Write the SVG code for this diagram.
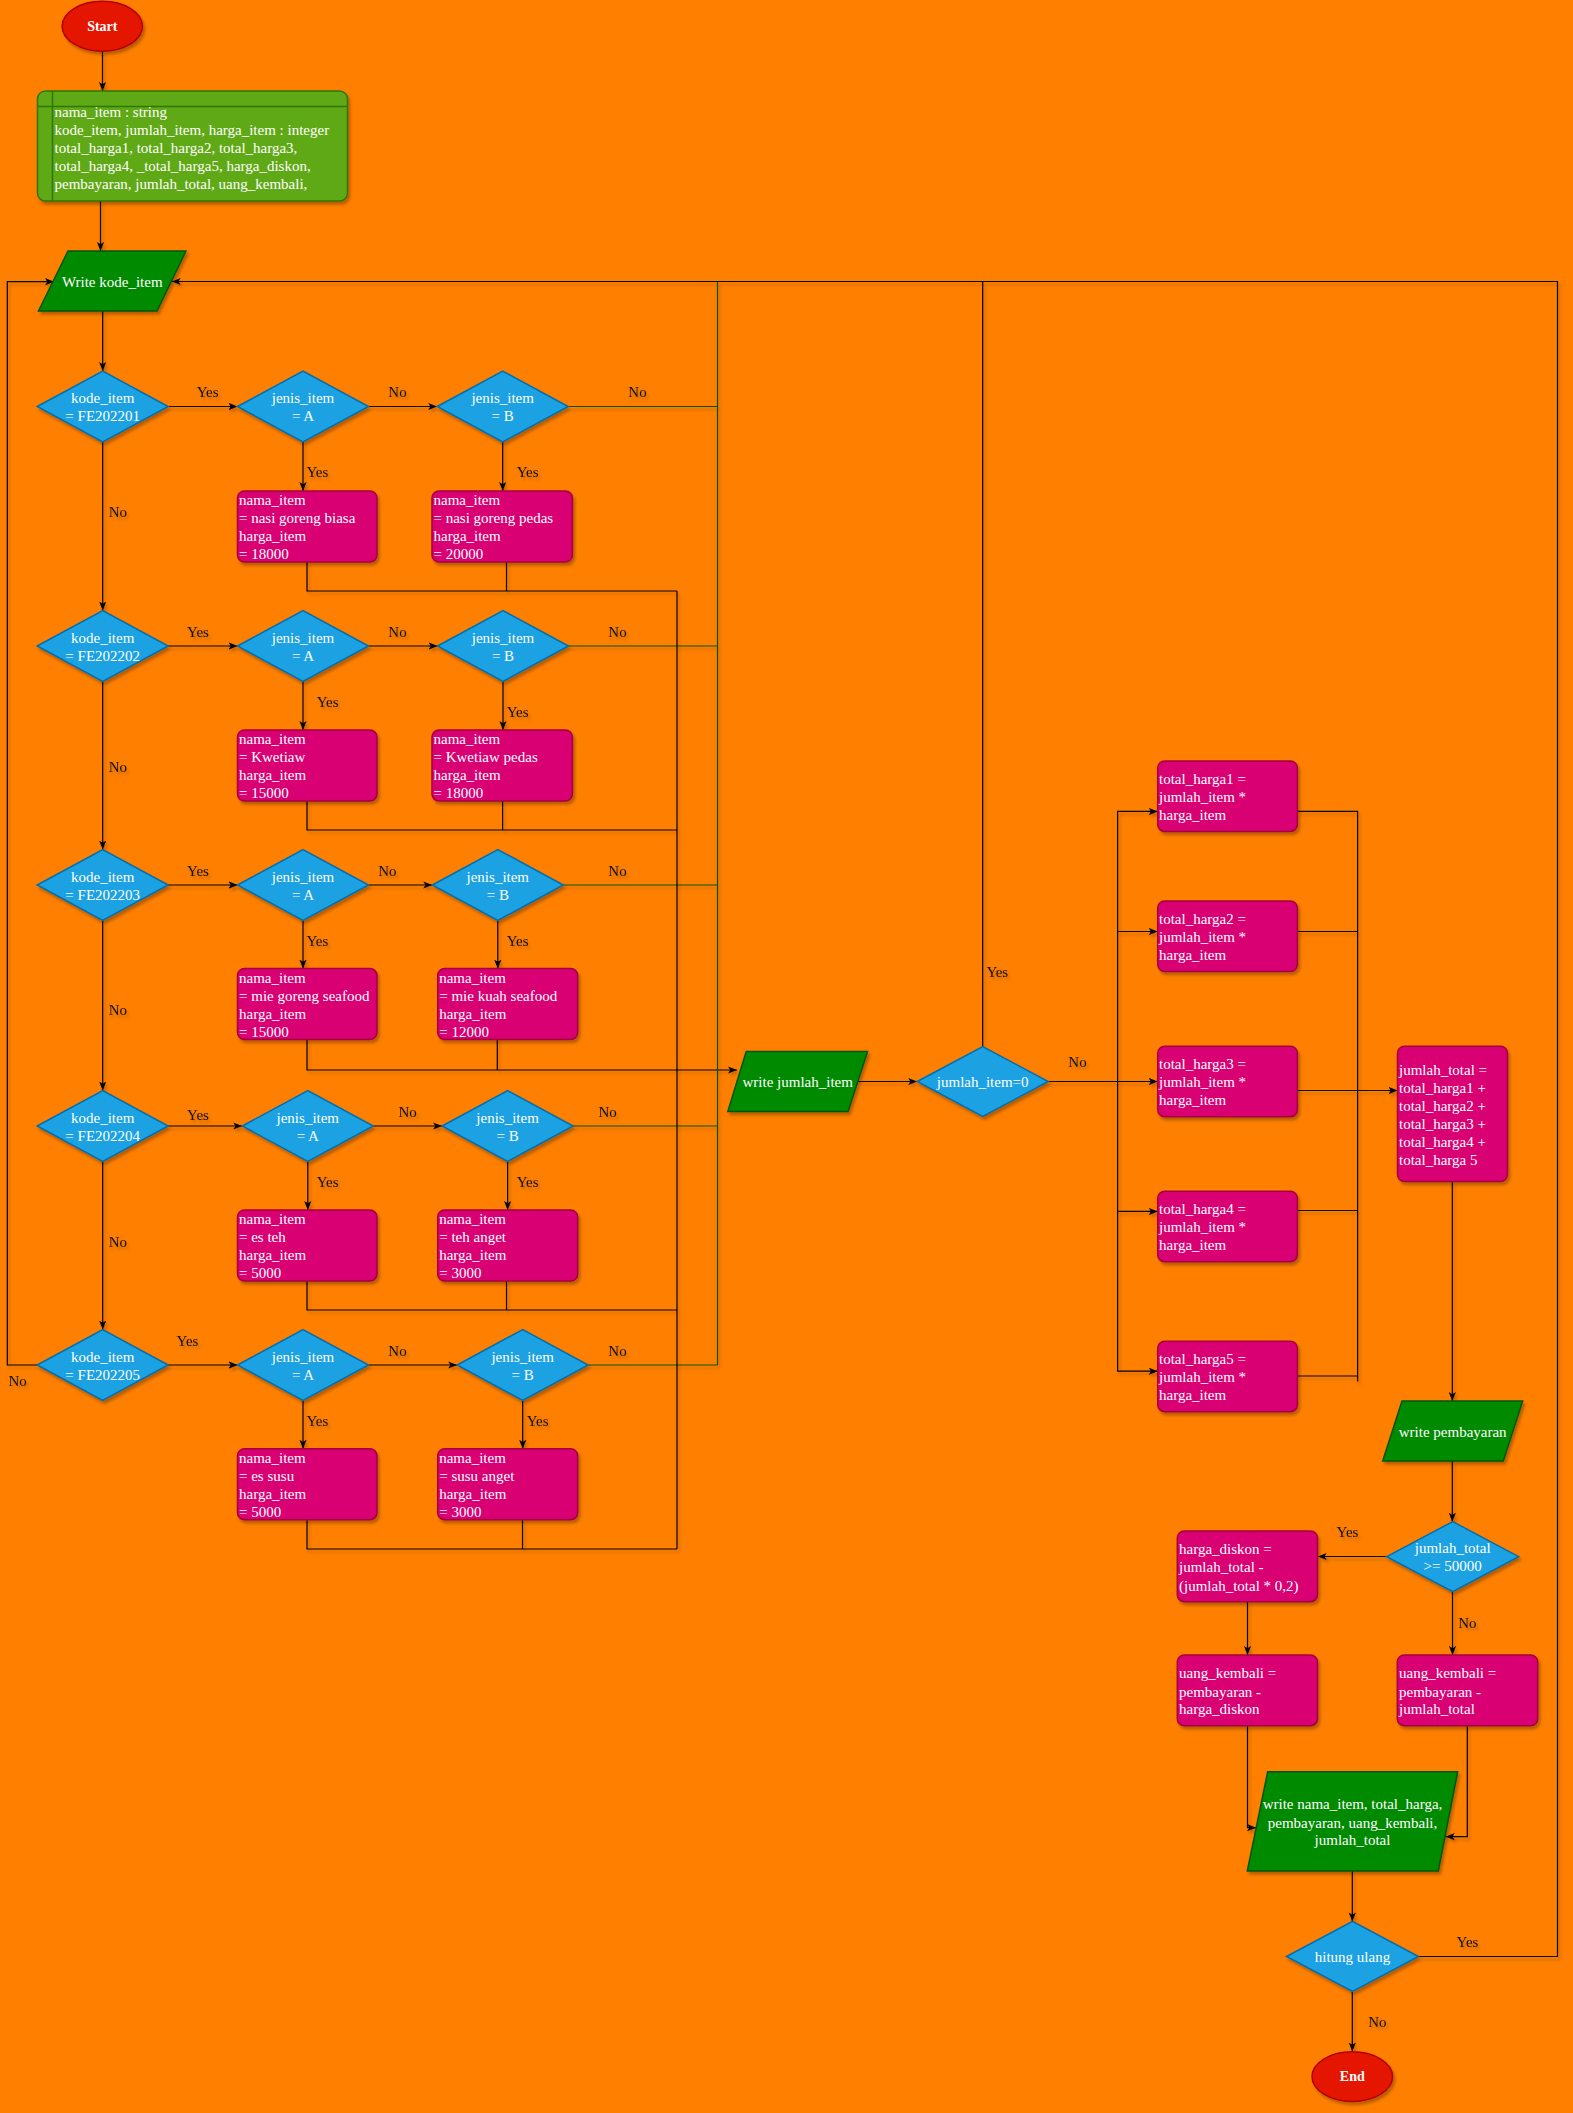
<svg xmlns="http://www.w3.org/2000/svg" width="1573" height="2113" viewBox="0 0 1573 2113">
<defs>
<filter id="sh" x="-20%" y="-20%" width="150%" height="160%"><feDropShadow dx="2" dy="3" stdDeviation="1.6" flood-color="#000" flood-opacity="0.28"/></filter>
<filter id="lsh" filterUnits="userSpaceOnUse" x="0" y="0" width="1573" height="2113"><feDropShadow dx="2" dy="3" stdDeviation="1.4" flood-color="#000" flood-opacity="0.22"/></filter>
<marker id="ar" viewBox="0 0 10 10" refX="10" refY="5" markerWidth="9" markerHeight="9" markerUnits="userSpaceOnUse" orient="auto"><path d="M0,1 L10,5 L0,9 L2.5,5 Z" fill="#000"/></marker>
<style>
.term{fill:#e51400;stroke:#b20000;stroke-width:1.5}
.decl{fill:#60a917;stroke:#2d7600;stroke-width:1.5}
.io{fill:#008a00;stroke:#005700;stroke-width:1.5}
.dec{fill:#1ba1e2;stroke:#006eaf;stroke-width:1.5}
.proc{fill:#d80073;stroke:#a50040;stroke-width:1.5}
.sh{filter:url(#sh)}
text{font-family:"Liberation Serif","Times New Roman",serif;font-size:15px}
.t{fill:#fff}
.c{text-anchor:middle}
.b{font-weight:bold;font-size:14px}
.lbl{fill:#111;text-anchor:middle}
.e{fill:none;stroke:#000;stroke-width:1.2}
.g{fill:none;stroke:#005700;stroke-width:1.2}
.a{marker-end:url(#ar)}
</style>
</defs>
<rect x="0" y="0" width="1573" height="2113" fill="#ff8000"/>

<g id="connectors" filter="url(#lsh)">
<path class="e a" d="M102.5,51 V91"/>
<path class="e a" d="M100.5,201 V251"/>
<path class="e a" d="M102.7,311 V371"/>
<!-- row 1 -->
<path class="e a" d="M168.2,406.5 H237.5"/>
<path class="e a" d="M368.5,406.5 H437.2"/>
<path class="g" d="M568.2,406.5 H717.5"/>
<path class="e a" d="M303,442 V491"/>
<path class="e a" d="M502.7,442 V491"/>
<path class="e" d="M307,562 V591 H677"/>
<path class="e" d="M506.5,562 V591"/>
<path class="e a" d="M102.7,442 V610.5"/>
<!-- row 2 -->
<path class="e a" d="M168.2,646 H237.5"/>
<path class="e a" d="M368.5,646 H437.5"/>
<path class="g" d="M568.5,646 H717.5"/>
<path class="e a" d="M303,681.5 V730"/>
<path class="e a" d="M503,681.5 V730"/>
<path class="e" d="M307,801 V830 H677"/>
<path class="e" d="M502.6,801 V830"/>
<path class="e a" d="M102.7,681.5 V849.5"/>
<!-- row 3 -->
<path class="e a" d="M168.2,885 H237.5"/>
<path class="e a" d="M368.5,885 H432.3"/>
<path class="g" d="M563.3,885 H717.5"/>
<path class="e a" d="M303,920.5 V968.6"/>
<path class="e a" d="M497.8,920.5 V968.6"/>
<path class="e a" d="M307,1039.6 V1070 H737"/>
<path class="e" d="M497.3,1039.6 V1070"/>
<path class="e a" d="M102.7,920.5 V1090.5"/>
<!-- row 4 -->
<path class="e a" d="M168.2,1126 H242.3"/>
<path class="e a" d="M373.3,1126 H442.1"/>
<path class="g" d="M573.1,1126 H717.5"/>
<path class="e a" d="M307.8,1161.5 V1210"/>
<path class="e a" d="M507.6,1161.5 V1210"/>
<path class="e" d="M307,1281 V1310 H677"/>
<path class="e" d="M506.5,1281 V1310"/>
<path class="e a" d="M102.7,1161.5 V1329.5"/>
<!-- row 5 -->
<path class="e a" d="M168.2,1365 H237.5"/>
<path class="e a" d="M368.5,1365 H457.2"/>
<path class="g" d="M588.2,1365 H717.5"/>
<path class="e a" d="M303,1400.5 V1448.7"/>
<path class="e a" d="M522.7,1400.5 V1448.7"/>
<path class="e" d="M307,1519.7 V1549 H677"/>
<path class="e" d="M522.5,1519.7 V1549"/>
<!-- joins -->
<path class="e" d="M677,591 V1549"/>
<path class="g" d="M717.5,281.5 V1365"/>
<path class="e a" d="M37.2,1365 H7.3 V281.7 H54"/>
<path class="e a" d="M1418.5,1956.5 H1557.5 V281.5 H171.7"/>
<path class="e" d="M982.7,1046.5 V281.5"/>
<!-- right part -->
<path class="e a" d="M858,1081.5 H917.2"/>
<path class="e a" d="M1048,1081.5 H1157.7"/>
<path class="e a" d="M1117.6,1081.5 V811.4 H1157.7"/>
<path class="e a" d="M1117.6,931.5 H1157.7"/>
<path class="e a" d="M1117.6,1081.5 V1371.2 H1157.7"/>
<path class="e a" d="M1117.6,1211.4 H1157.7"/>
<path class="e" d="M1297.4,811.4 H1357.6 V1381.5"/>
<path class="e" d="M1297.4,931.5 H1357.6"/>
<path class="e a" d="M1297.4,1090.5 H1397.5"/>
<path class="e" d="M1297.4,1210.5 H1357.6"/>
<path class="e" d="M1297.4,1376 H1357.6"/>
<path class="e a" d="M1452.3,1181.5 V1401"/>
<path class="e a" d="M1452.3,1461 V1521.7"/>
<path class="e a" d="M1386.7,1556.5 H1317.7"/>
<path class="e a" d="M1452.5,1591.7 V1655"/>
<path class="e a" d="M1247.5,1601.7 V1655"/>
<path class="e a" d="M1247.5,1725.7 V1827.7 H1256"/>
<path class="e a" d="M1467.3,1725.7 V1836.7 H1445.7"/>
<path class="e a" d="M1352.3,1871 V1921.4"/>
<path class="e a" d="M1352.3,1991.5 V2051.5"/>
</g>

<g id="labels" filter="url(#lsh)">
<text class="lbl" x="207.7" y="397">Yes</text>
<text class="lbl" x="397.5" y="397">No</text>
<text class="lbl" x="637.5" y="397">No</text>
<text class="lbl" x="317.4" y="477">Yes</text>
<text class="lbl" x="527.6" y="477">Yes</text>
<text class="lbl" x="117.8" y="517.4">No</text>
<text class="lbl" x="198" y="637">Yes</text>
<text class="lbl" x="397.5" y="637">No</text>
<text class="lbl" x="617.5" y="637">No</text>
<text class="lbl" x="327.7" y="706.7">Yes</text>
<text class="lbl" x="517.7" y="716.6">Yes</text>
<text class="lbl" x="117.8" y="771.7">No</text>
<text class="lbl" x="198" y="875.8">Yes</text>
<text class="lbl" x="387.3" y="875.8">No</text>
<text class="lbl" x="617.5" y="875.8">No</text>
<text class="lbl" x="317.4" y="945.5">Yes</text>
<text class="lbl" x="517.7" y="945.5">Yes</text>
<text class="lbl" x="117.8" y="1015">No</text>
<text class="lbl" x="198" y="1119.8">Yes</text>
<text class="lbl" x="407.6" y="1117.2">No</text>
<text class="lbl" x="607.6" y="1117.2">No</text>
<text class="lbl" x="327.7" y="1186.8">Yes</text>
<text class="lbl" x="527.6" y="1186.8">Yes</text>
<text class="lbl" x="117.8" y="1246.5">No</text>
<text class="lbl" x="187.5" y="1346">Yes</text>
<text class="lbl" x="17.7" y="1385.8">No</text>
<text class="lbl" x="397.5" y="1356">No</text>
<text class="lbl" x="617.5" y="1356">No</text>
<text class="lbl" x="317.4" y="1425.5">Yes</text>
<text class="lbl" x="537.7" y="1425.5">Yes</text>
<text class="lbl" x="997.3" y="977">Yes</text>
<text class="lbl" x="1077.5" y="1067.3">No</text>
<text class="lbl" x="1347.5" y="1537.3">Yes</text>
<text class="lbl" x="1467.3" y="1627.7">No</text>
<text class="lbl" x="1467.5" y="1947">Yes</text>
<text class="lbl" x="1377.3" y="2027.3">No</text>
</g>

<g id="start">
<ellipse class="term sh" cx="102.3" cy="26.3" rx="40.2" ry="25"/>
<text class="t c b" x="102.3" y="31.3">Start</text>
</g>

<g id="declaration">
<rect class="decl sh" x="37.5" y="91" width="310" height="110" rx="8"/>
<path d="M52.5,91 V201 M37.5,106.5 H347.5" fill="none" stroke="#2d7600" stroke-width="1.5"/>
<text class="t" x="54.5" y="116.7">nama_item : string</text>
<text class="t" x="54.5" y="134.5">kode_item, jumlah_item, harga_item : integer</text>
<text class="t" x="54.5" y="152.5">total_harga1, total_harga2, total_harga3,</text>
<text class="t" x="54.5" y="170.5">total_harga4, _total_harga5, harga_diskon,</text>
<text class="t" x="54.5" y="188.5">pembayaran, jumlah_total, uang_kembali,</text>
</g>

<g id="write_kode">
<polygon class="io sh" points="68,251 186,251 157,311 38.5,311"/>
<text class="t c" x="112.3" y="286.7">Write kode_item</text>
</g>

<!-- Row 1 -->
<g id="kode1"><polygon class="dec sh" points="37.2,406.5 102.7,371 168.2,406.5 102.7,442"/>
<text class="t c" x="102.7" y="403">kode_item</text><text class="t c" x="102.7" y="421">= FE202201</text></g>
<g id="jenisA1"><polygon class="dec sh" points="237.5,406.5 303,371 368.5,406.5 303,442"/>
<text class="t c" x="303" y="403">jenis_item</text><text class="t c" x="303" y="421">= A</text></g>
<g id="jenisB1"><polygon class="dec sh" points="437.2,406.5 502.7,371 568.2,406.5 502.7,442"/>
<text class="t c" x="502.7" y="403">jenis_item</text><text class="t c" x="502.7" y="421">= B</text></g>
<g id="procA1"><rect class="proc sh" x="237.5" y="491" width="139.5" height="71" rx="7"/>
<text class="t" x="239" y="505">nama_item</text><text class="t" x="239" y="523">= nasi goreng biasa</text><text class="t" x="239" y="541">harga_item</text><text class="t" x="239" y="559">= 18000</text></g>
<g id="procB1"><rect class="proc sh" x="432" y="491" width="140.4" height="71" rx="7"/>
<text class="t" x="433.5" y="505">nama_item</text><text class="t" x="433.5" y="523">= nasi goreng pedas</text><text class="t" x="433.5" y="541">harga_item</text><text class="t" x="433.5" y="559">= 20000</text></g>

<!-- Row 2 -->
<g id="kode2"><polygon class="dec sh" points="37.2,646 102.7,610.5 168.2,646 102.7,681.5"/>
<text class="t c" x="102.7" y="642.5">kode_item</text><text class="t c" x="102.7" y="660.5">= FE202202</text></g>
<g id="jenisA2"><polygon class="dec sh" points="237.5,646 303,610.5 368.5,646 303,681.5"/>
<text class="t c" x="303" y="642.5">jenis_item</text><text class="t c" x="303" y="660.5">= A</text></g>
<g id="jenisB2"><polygon class="dec sh" points="437.5,646 503,610.5 568.5,646 503,681.5"/>
<text class="t c" x="503" y="642.5">jenis_item</text><text class="t c" x="503" y="660.5">= B</text></g>
<g id="procA2"><rect class="proc sh" x="237.5" y="730" width="139.5" height="71" rx="7"/>
<text class="t" x="239" y="744">nama_item</text><text class="t" x="239" y="762">= Kwetiaw</text><text class="t" x="239" y="780">harga_item</text><text class="t" x="239" y="798">= 15000</text></g>
<g id="procB2"><rect class="proc sh" x="432" y="730" width="140.4" height="71" rx="7"/>
<text class="t" x="433.5" y="744">nama_item</text><text class="t" x="433.5" y="762">= Kwetiaw pedas</text><text class="t" x="433.5" y="780">harga_item</text><text class="t" x="433.5" y="798">= 18000</text></g>

<!-- Row 3 -->
<g id="kode3"><polygon class="dec sh" points="37.2,885 102.7,849.5 168.2,885 102.7,920.5"/>
<text class="t c" x="102.7" y="881.5">kode_item</text><text class="t c" x="102.7" y="899.5">= FE202203</text></g>
<g id="jenisA3"><polygon class="dec sh" points="237.5,885 303,849.5 368.5,885 303,920.5"/>
<text class="t c" x="303" y="881.5">jenis_item</text><text class="t c" x="303" y="899.5">= A</text></g>
<g id="jenisB3"><polygon class="dec sh" points="432.3,885 497.8,849.5 563.3,885 497.8,920.5"/>
<text class="t c" x="497.8" y="881.5">jenis_item</text><text class="t c" x="497.8" y="899.5">= B</text></g>
<g id="procA3"><rect class="proc sh" x="237.5" y="968.6" width="139.5" height="71" rx="7"/>
<text class="t" x="239" y="982.6">nama_item</text><text class="t" x="239" y="1000.6">= mie goreng seafood</text><text class="t" x="239" y="1018.6">harga_item</text><text class="t" x="239" y="1036.6">= 15000</text></g>
<g id="procB3"><rect class="proc sh" x="437.7" y="968.6" width="140" height="71" rx="7"/>
<text class="t" x="439.2" y="982.6">nama_item</text><text class="t" x="439.2" y="1000.6">= mie kuah seafood</text><text class="t" x="439.2" y="1018.6">harga_item</text><text class="t" x="439.2" y="1036.6">= 12000</text></g>

<!-- Row 4 -->
<g id="kode4"><polygon class="dec sh" points="37.2,1126 102.7,1090.5 168.2,1126 102.7,1161.5"/>
<text class="t c" x="102.7" y="1122.5">kode_item</text><text class="t c" x="102.7" y="1140.5">= FE202204</text></g>
<g id="jenisA4"><polygon class="dec sh" points="242.3,1126 307.8,1090.5 373.3,1126 307.8,1161.5"/>
<text class="t c" x="307.8" y="1122.5">jenis_item</text><text class="t c" x="307.8" y="1140.5">= A</text></g>
<g id="jenisB4"><polygon class="dec sh" points="442.1,1126 507.6,1090.5 573.1,1126 507.6,1161.5"/>
<text class="t c" x="507.6" y="1122.5">jenis_item</text><text class="t c" x="507.6" y="1140.5">= B</text></g>
<g id="procA4"><rect class="proc sh" x="237.5" y="1210" width="139.5" height="71" rx="7"/>
<text class="t" x="239" y="1224">nama_item</text><text class="t" x="239" y="1242">= es teh</text><text class="t" x="239" y="1260">harga_item</text><text class="t" x="239" y="1278">= 5000</text></g>
<g id="procB4"><rect class="proc sh" x="437.7" y="1210" width="140" height="71" rx="7"/>
<text class="t" x="439.2" y="1224">nama_item</text><text class="t" x="439.2" y="1242">= teh anget</text><text class="t" x="439.2" y="1260">harga_item</text><text class="t" x="439.2" y="1278">= 3000</text></g>

<!-- Row 5 -->
<g id="kode5"><polygon class="dec sh" points="37.2,1365 102.7,1329.5 168.2,1365 102.7,1400.5"/>
<text class="t c" x="102.7" y="1361.5">kode_item</text><text class="t c" x="102.7" y="1379.5">= FE202205</text></g>
<g id="jenisA5"><polygon class="dec sh" points="237.5,1365 303,1329.5 368.5,1365 303,1400.5"/>
<text class="t c" x="303" y="1361.5">jenis_item</text><text class="t c" x="303" y="1379.5">= A</text></g>
<g id="jenisB5"><polygon class="dec sh" points="457.2,1365 522.7,1329.5 588.2,1365 522.7,1400.5"/>
<text class="t c" x="522.7" y="1361.5">jenis_item</text><text class="t c" x="522.7" y="1379.5">= B</text></g>
<g id="procA5"><rect class="proc sh" x="237.5" y="1448.7" width="139.5" height="71" rx="7"/>
<text class="t" x="239" y="1462.7">nama_item</text><text class="t" x="239" y="1480.7">= es susu</text><text class="t" x="239" y="1498.7">harga_item</text><text class="t" x="239" y="1516.7">= 5000</text></g>
<g id="procB5"><rect class="proc sh" x="437.7" y="1448.7" width="140" height="71" rx="7"/>
<text class="t" x="439.2" y="1462.7">nama_item</text><text class="t" x="439.2" y="1480.7">= susu anget</text><text class="t" x="439.2" y="1498.7">harga_item</text><text class="t" x="439.2" y="1516.7">= 3000</text></g>

<!-- Right part -->
<g id="write_jumlah">
<polygon class="io sh" points="746.2,1051.6 867.6,1051.6 848.1,1111.4 727.8,1111.4"/>
<text class="t c" x="797.7" y="1086.8">write jumlah_item</text>
</g>
<g id="cek_jumlah">
<polygon class="dec sh" points="917.2,1081.5 982.7,1046.5 1048.2,1081.5 982.7,1116.5"/>
<text class="t c" x="982.7" y="1086.5">jumlah_item=0</text>
</g>
<g id="total1"><rect class="proc sh" x="1157.7" y="761" width="139.7" height="70.5" rx="7"/>
<text class="t" x="1159" y="784">total_harga1 =</text><text class="t" x="1159" y="802">jumlah_item *</text><text class="t" x="1159" y="820">harga_item</text></g>
<g id="total2"><rect class="proc sh" x="1157.7" y="901" width="139.7" height="70.5" rx="7"/>
<text class="t" x="1159" y="924">total_harga2 =</text><text class="t" x="1159" y="942">jumlah_item *</text><text class="t" x="1159" y="960">harga_item</text></g>
<g id="total3"><rect class="proc sh" x="1157.7" y="1046.2" width="139.7" height="70.5" rx="7"/>
<text class="t" x="1159" y="1069.2">total_harga3 =</text><text class="t" x="1159" y="1087.2">jumlah_item *</text><text class="t" x="1159" y="1105.2">harga_item</text></g>
<g id="total4"><rect class="proc sh" x="1157.7" y="1191.2" width="139.7" height="70.5" rx="7"/>
<text class="t" x="1159" y="1214.2">total_harga4 =</text><text class="t" x="1159" y="1232.2">jumlah_item *</text><text class="t" x="1159" y="1250.2">harga_item</text></g>
<g id="total5"><rect class="proc sh" x="1157.7" y="1341.2" width="139.7" height="70.5" rx="7"/>
<text class="t" x="1159" y="1364.2">total_harga5 =</text><text class="t" x="1159" y="1382.2">jumlah_item *</text><text class="t" x="1159" y="1400.2">harga_item</text></g>
<g id="jumlah_total"><rect class="proc sh" x="1397.5" y="1046.2" width="110" height="135.3" rx="7"/>
<text class="t" x="1399" y="1075">jumlah_total =</text><text class="t" x="1399" y="1093">total_harga1 +</text><text class="t" x="1399" y="1111">total_harga2 +</text><text class="t" x="1399" y="1129">total_harga3 +</text><text class="t" x="1399" y="1147">total_harga4 +</text><text class="t" x="1399" y="1165">total_harga 5</text></g>
<g id="write_bayar">
<polygon class="io sh" points="1402,1401 1522.7,1401 1503.3,1461 1382.7,1461"/>
<text class="t c" x="1452.7" y="1437">write pembayaran</text>
</g>
<g id="cek_total">
<polygon class="dec sh" points="1386.7,1556.7 1452.7,1521.7 1518.7,1556.7 1452.7,1591.7"/>
<text class="t c" x="1452.7" y="1553.3">jumlah_total</text><text class="t c" x="1452.7" y="1571">&gt;= 50000</text>
</g>
<g id="diskon"><rect class="proc sh" x="1177.3" y="1531" width="140.2" height="70.7" rx="7"/>
<text class="t" x="1179" y="1554.3">harga_diskon =</text><text class="t" x="1179" y="1572.3">jumlah_total -</text><text class="t" x="1179" y="1590.5">(jumlah_total * 0,2)</text></g>
<g id="kembali1"><rect class="proc sh" x="1177.3" y="1655" width="140.2" height="70.7" rx="7"/>
<text class="t" x="1179" y="1678.3">uang_kembali =</text><text class="t" x="1179" y="1696.5">pembayaran -</text><text class="t" x="1179" y="1714.3">harga_diskon</text></g>
<g id="kembali2"><rect class="proc sh" x="1397.3" y="1655" width="140.4" height="70.7" rx="7"/>
<text class="t" x="1399" y="1678.3">uang_kembali =</text><text class="t" x="1399" y="1696.5">pembayaran -</text><text class="t" x="1399" y="1714.3">jumlah_total</text></g>
<g id="write_hasil">
<polygon class="io sh" points="1267.7,1771.7 1457.7,1771.7 1438.3,1871 1247.3,1871"/>
<text class="t c" x="1352.5" y="1809.3">write nama_item, total_harga,</text>
<text class="t c" x="1352.5" y="1827.5">pembayaran, uang_kembali,</text>
<text class="t c" x="1352.5" y="1845.3">jumlah_total</text>
</g>
<g id="hitung_ulang">
<polygon class="dec sh" points="1286.5,1956.5 1352.5,1921.4 1418.5,1956.5 1352.5,1991.5"/>
<text class="t c" x="1352.5" y="1962">hitung ulang</text>
</g>
<g id="end">
<ellipse class="term sh" cx="1352.3" cy="2076.6" rx="40.3" ry="24.8"/>
<text class="t c b" x="1352.3" y="2081.4">End</text>
</g>
</svg>
